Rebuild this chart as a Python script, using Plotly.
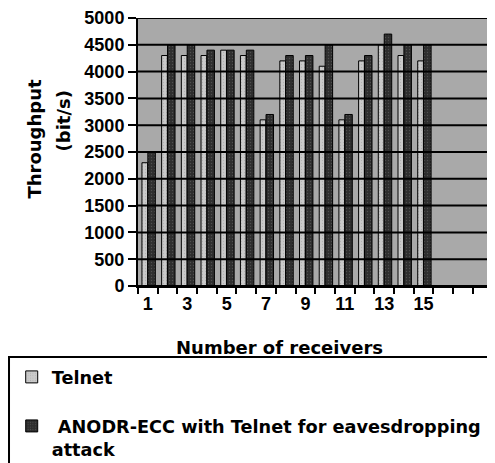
import plotly.graph_objects as go

receivers = list(range(1, 16))
telnet = [2300, 4300, 4300, 4300, 4400, 4300, 3100, 4200, 4200, 4100, 3100, 4200, 4500, 4300, 4200]
anodr = [2500, 4500, 4500, 4400, 4400, 4400, 3200, 4300, 4300, 4500, 3200, 4300, 4700, 4500, 4500]
y_ticks = [0, 500, 1000, 1500, 2000, 2500, 3000, 3500, 4000, 4500, 5000]
x_tick_labels = [1, 3, 5, 7, 9, 11, 13, 15]

num_font = dict(family="Liberation Sans, Arial", size=18, color="black", weight="bold")
txt_font = dict(family="DejaVu Sans", size=18, color="black", weight="bold")
leg_font = dict(family="DejaVu Sans", size=17.7, color="black", weight="bold")

fig = go.Figure()
fig.add_trace(go.Bar(
    x=receivers, y=telnet, name="Telnet",
    offset=-0.3, width=0.29,
    marker=dict(color="#cacaca", line=dict(color="black", width=1),
                pattern=dict(shape=".", fgcolor="#9a9a9a", size=3, solidity=0.15)),
    legendgroup="a",
))
fig.add_trace(go.Bar(
    x=receivers, y=anodr, name=" ANODR-ECC with Telnet for eavesdropping<br>attack",
    offset=0.0, width=0.38,
    marker=dict(color="#2e2e2e", line=dict(color="black", width=1),
                pattern=dict(shape=".", fgcolor="#707070", size=3, solidity=0.15)),
    legendgroup="b",
))

fig.update_layout(
    width=495, height=463,
    margin=dict(l=130, r=0, t=10, b=185, autoexpand=False),
    paper_bgcolor="white",
    plot_bgcolor="#a9a9a9",
    barmode="overlay",
    showlegend=True,
    legend=dict(
        x=-0.346, xanchor="left", y=-0.272, yanchor="top", valign="top",
        font=leg_font, bgcolor="rgba(0,0,0,0)", borderwidth=0,
        traceorder="grouped", tracegroupgap=23, itemwidth=30,
    ),
    xaxis=dict(
        range=[0.5, 19.03], tickvals=x_tick_labels, ticktext=[str(v) for v in x_tick_labels],
        ticks="", tickfont=num_font, showgrid=False, zeroline=False,
        showline=True, linecolor="black", linewidth=2,
        minor=dict(ticks="outside", tick0=0.5, dtick=1, ticklen=6, tickcolor="black", tickwidth=2, showgrid=False),
    ),
    yaxis=dict(
        range=[0, 5000], tickvals=y_ticks, tickfont=num_font,
        ticks="outside", ticklen=8, tickcolor="black", tickwidth=2, ticklabelstandoff=0,
        showgrid=False, zeroline=False, showline=True, linecolor="black", linewidth=2,
    ),
    annotations=[
        dict(text="Number of receivers", xref="paper", yref="paper", x=0.389, y=-0.228,
             showarrow=False, font=txt_font, yanchor="middle", xanchor="center"),
        dict(text="Throughput", xref="paper", yref="paper", x=-0.2836, y=0.552,
             showarrow=False, font=txt_font, textangle=-90, xanchor="center", yanchor="middle"),
        dict(text="(bit/s)", xref="paper", yref="paper", x=-0.204, y=0.616,
             showarrow=False, font=txt_font, textangle=-90, xanchor="center", yanchor="middle"),
    ],
)

for v in y_ticks:
    fig.add_hline(y=v, line=dict(color="black", width=2), layer="above")

fig.add_shape(type="rect", xref="paper", yref="paper", x0=-0.3534, x1=1.2, y0=-0.265, y1=-0.8,
              line=dict(color="black", width=2), fillcolor="rgba(0,0,0,0)", layer="above")

fig.write_html("out.html")
